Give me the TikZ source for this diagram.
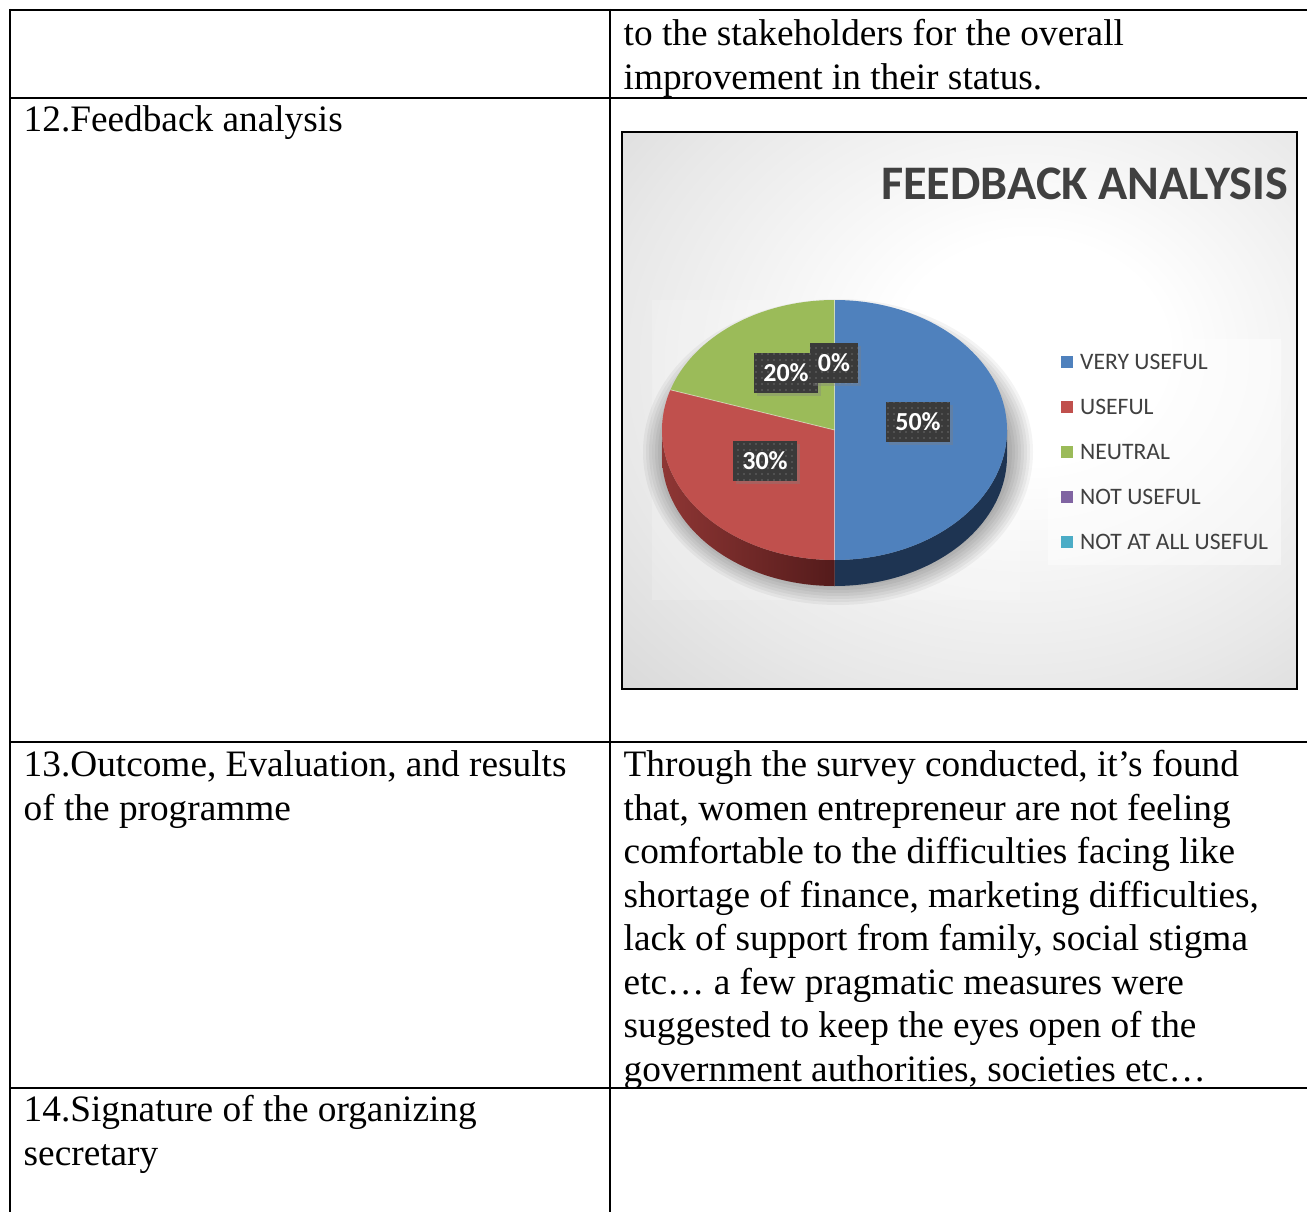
\documentclass[tikz,border=0pt]{standalone}
\usepackage{fontspec}
\setmainfont{Liberation Serif}
\newfontfamily\calib{Carlito}
\usetikzlibrary{shadows,patterns.meta}
\definecolor{vblue}{HTML}{4F81BD}
\definecolor{vred}{HTML}{C0504D}
\definecolor{vgreen}{HTML}{9BBB59}
\definecolor{vpurple}{HTML}{8064A2}
\definecolor{vaqua}{HTML}{4BACC6}
\definecolor{txtgray}{HTML}{404040}
\definecolor{sidered}{HTML}{8E3634}
\definecolor{sidereddark}{HTML}{541B1B}
\definecolor{sideblue}{HTML}{1E3452}
\definecolor{labelbg}{HTML}{3A3A3A}
\pgfdeclareradialshading{chartbg}{\pgfpoint{6bp}{6bp}}{color(0bp)=(white); color(10bp)=(white); color(30bp)=(black!9); color(48bp)=(black!19); color(70bp)=(black!30); color(90bp)=(black!31)}
\begin{document}
\begin{tikzpicture}[x=1pt,y=-1pt,
  rule/.style={line width=2.4pt, black},
  celltext/.style={anchor=north west, inner sep=0pt, align=left, font=\fontsize{37.3}{43.5}\selectfont},
  pctlabel/.style={fill=labelbg, text=white, font=\calib\bfseries\fontsize{26}{26}\selectfont,
    inner xsep=9pt, inner ysep=0pt, minimum height=40pt,
    drop shadow={shadow xshift=3pt, shadow yshift=-3pt, opacity=0.35},
    postaction={pattern={Dots[distance=6pt, radius=0.6pt]}, pattern color=gray!75}},
  legtext/.style={anchor=west, inner sep=0pt, text=txtgray, font=\calib\fontsize{23.6}{24}\selectfont},
  legmark/.style={minimum size=12pt, inner sep=0pt}
]
\useasboundingbox (0,0) rectangle (1307,1212);
\fill[white] (0,0) rectangle (1307,1212);

% ---------- table rules ----------
\draw[rule] (10,10) -- (1307,10);
\draw[rule] (10,98) -- (1307,98);
\draw[rule] (10,742) -- (1307,742);
\draw[rule] (10,1088) -- (1307,1088);
\draw[rule] (10,8.8) -- (10,1212);
\draw[rule] (610,8.8) -- (610,1212);

% ---------- table texts ----------
\node[celltext] (r1) at (623.5,15) {\strut to the stakeholders for the overall\\improvement in their status.};
\node[celltext] (c12) at (23.5,101) {\strut 12.Feedback analysis};
\node[celltext] (c13) at (23.5,746) {\strut 13.Outcome, Evaluation, and results\\of the programme};
\node[celltext] (r13) at (623.5,746) {\strut Through the survey conducted, it’s found\\that, women entrepreneur are not feeling\\comfortable to the difficulties facing like\\shortage of finance, marketing difficulties,\\lack of support from family, social stigma\\etc… a few pragmatic measures were\\suggested to keep the eyes open of the\\government authorities, societies etc…};
\node[celltext] (c14) at (23.5,1091) {\strut 14.Signature of the organizing\\secretary};

% ---------- chart ----------
\shade[shading=chartbg] (622,132) rectangle (1297,689);
\draw[line width=2pt, black] (622,132) rectangle (1297,689);

\node[anchor=base east, inner sep=0pt, text=txtgray, font=\calib\bfseries\fontsize{48.2}{48}\selectfont] (title) at (1288,200) {FEEDBACK ANALYSIS};

\def\pcx{834.5}\def\pcy{430}\def\prx{172.5}\def\pry{130}\def\pdep{26}
% soft halo and shadow
\fill[white, opacity=0.18] (652,300) rectangle (1020,600);
\foreach \i in {0,...,7}
  \fill[black, opacity=0.045] (838,452) ellipse [x radius={174+3*\i}, y radius={132+3*\i}];
% sides
\fill[sideblue] (\pcx+\prx,\pcy) arc[start angle=0,end angle=90,x radius=\prx,y radius=\pry]
  -- ++(0,\pdep) arc[start angle=90,end angle=0,x radius=\prx,y radius=\pry] -- cycle;
\shade[left color=sidered, right color=sidereddark] (\pcx,\pcy+\pry) arc[start angle=90,end angle=180,x radius=\prx,y radius=\pry]
  -- ++(0,\pdep) arc[start angle=180,end angle=90,x radius=\prx,y radius=\pry] -- cycle;
% top faces
\fill[vblue] (\pcx,\pcy) -- (\pcx,\pcy-\pry) arc[start angle=-90,end angle=90,x radius=\prx,y radius=\pry] -- cycle;
\fill[vred] (\pcx,\pcy) -- (\pcx,\pcy+\pry) arc[start angle=90,end angle=198,x radius=\prx,y radius=\pry] -- cycle;
\fill[vgreen] (\pcx,\pcy) -- (670.44,389.83) arc[start angle=198,end angle=270,x radius=\prx,y radius=\pry] -- cycle;
\draw[white, opacity=0.5, line width=0.8pt] (\pcx,\pcy-\pry) -- (\pcx,\pcy+\pry);
\draw[white, opacity=0.5, line width=0.8pt] (\pcx,\pcy) -- (670.44,389.83);

% percentage labels
\node[pctlabel] (l50) at (918,422) {50\%};
\node[pctlabel] (l30) at (765,461) {30\%};
\node[pctlabel] (l20) at (786,373) {20\%};
\node[pctlabel, inner xsep=8pt] (l0) at (834,363) {0\%};

% legend
\fill[white, opacity=0.45] (1048,339) rectangle (1281,565);
\foreach \c/\t/\yy [count=\k] in {vblue/VERY USEFUL/362, vred/USEFUL/407, vgreen/NEUTRAL/452, vpurple/NOT USEFUL/497, vaqua/NOT AT ALL USEFUL/542}{
  \node[legmark, fill=\c] (m\k) at (1067,\yy) {};
  \node[legtext] (t\k) at (1080,\yy) {\t};
}
\end{tikzpicture}
\end{document}
